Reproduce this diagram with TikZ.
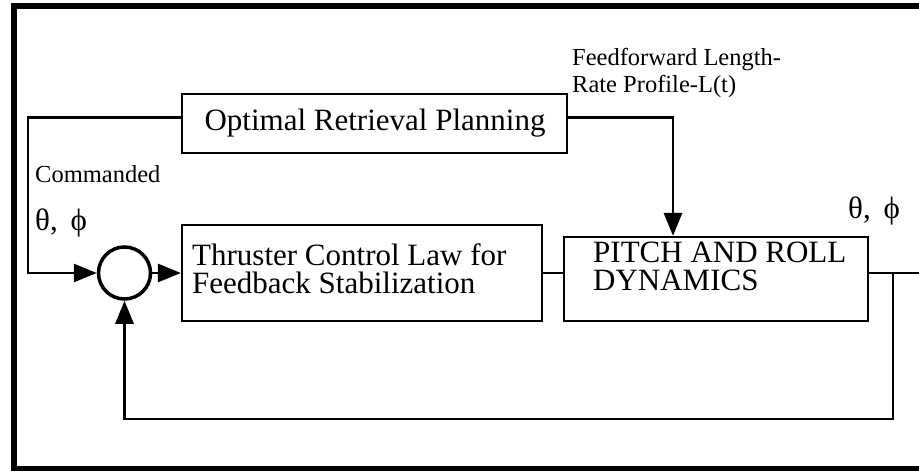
\documentclass[tikz,border=0pt]{standalone}
\usepackage{fontspec}
\setmainfont{Liberation Serif}
\usetikzlibrary{arrows.meta,calc}
\begin{document}
\begin{tikzpicture}[x=1pt,y=-1pt,
  blockbox/.style={draw,line width=2.2pt,rectangle,inner sep=0pt},
  conn/.style={line width=2.8pt},
  arr/.style={conn,-{Triangle[length=23pt,width=18pt]}},
  boxtext/.style={font=\fontsize{31}{27.5}\selectfont,inner sep=0pt,align=left},
  lbl/.style={font=\fontsize{24.5}{27}\selectfont,inner sep=0pt,align=left},
  greek/.style={font=\fontsize{31}{31}\selectfont,inner sep=0pt}
]
\useasboundingbox (0,0) rectangle (919,471);
% frame
\draw[line width=6pt] (919,5.5) -- (14,5.5) -- (14,469) -- (919,469);

% blocks
\node[blockbox,minimum width=385pt,minimum height=59pt] (orp) at (374.5,123.5) {};
\node[boxtext,anchor=base] (orpt) at (375,130) {Optimal Retrieval Planning};
\node[blockbox,minimum width=360pt,minimum height=96pt] (thr) at (362,273) {};
\node[boxtext,anchor=base west] (thrt) at (192,293) {Thruster Control Law for\\Feedback Stabilization};
\node[blockbox,minimum width=304pt,minimum height=84pt] (pit) at (716,279) {};
\node[boxtext,anchor=base west] (pitt) at (593,290) {PITCH AND ROLL\\DYNAMICS};
\node[draw,circle,line width=3.5pt,minimum size=52pt,inner sep=0pt] (sum) at (124.5,273) {};

% coordinates
\coordinate (cin) at (28,273);
\coordinate (ffx) at (673,117.5);
\coordinate (out) at (919,273);
\coordinate (br) at (893,273);
\coordinate (fb) at (893,419);

% connectors
\draw[arr] ([yshift=6pt]orp.west) -| (cin) -- (sum.west);
\draw[arr] (sum.east) -- (thr.west);
\draw[conn] (thr.east) -- (thr.east -| pit.west);
\draw[arr] ([yshift=6pt]orp.east) -- (ffx) -- (ffx |- pit.north);
\draw[conn] (pit.east |- out) -- (out);
\draw[arr] (br) -- (fb) -| (sum.south);

% labels
\node[lbl,anchor=base west] (ff) at (572,92) {Feedforward Length-\\Rate Profile-L(t)};
\node[lbl,anchor=base west] (cmd) at (35,182) {Commanded};
\node[greek,anchor=base west] (cang) at (35,230) {θ,\, ϕ};
\node[greek,anchor=base west] (oang) at (848,218) {θ,\, ϕ};
\end{tikzpicture}
\end{document}
